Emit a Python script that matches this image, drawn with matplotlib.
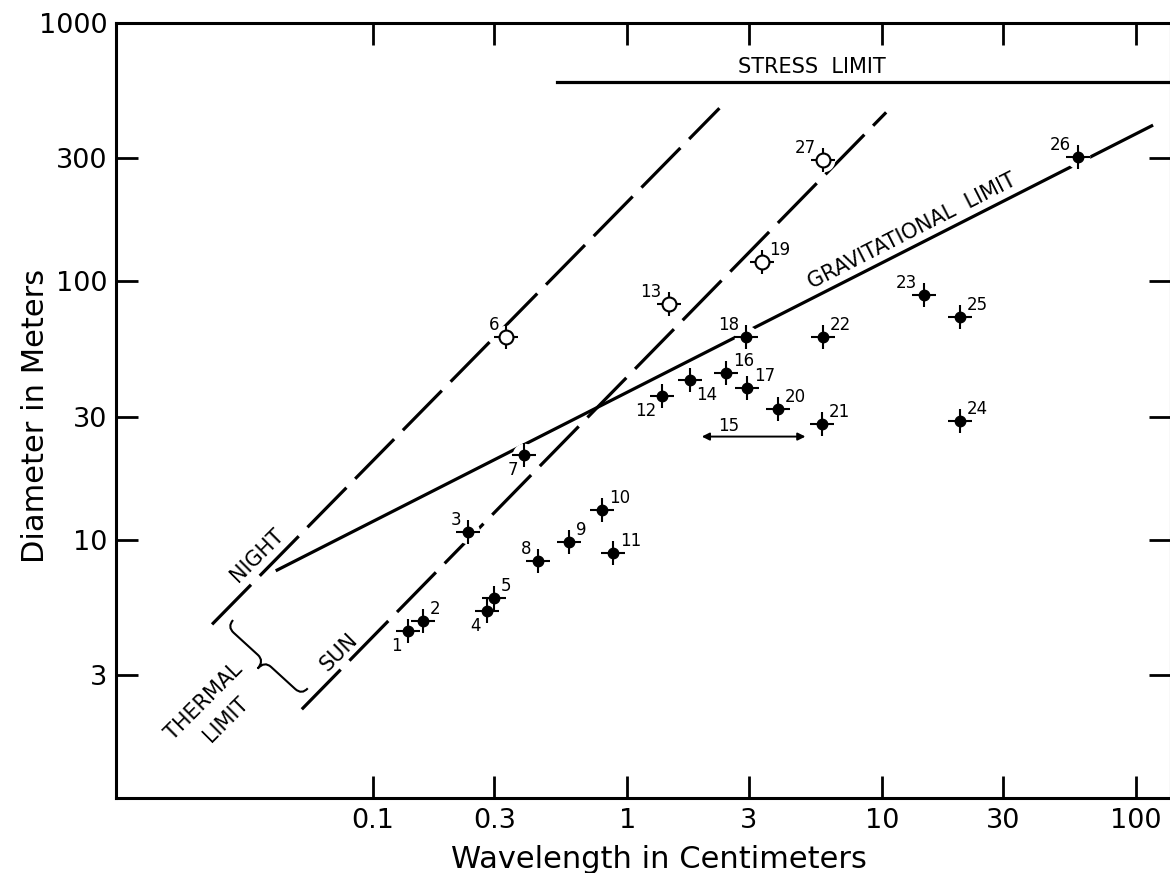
import matplotlib
matplotlib.use("Agg")
import matplotlib.pyplot as plt
import numpy as np
from matplotlib.path import Path
from matplotlib.patches import PathPatch
from matplotlib.ticker import NullLocator

plt.rcParams["font.family"] = ["DejaVu Sans"]
plt.rcParams["lines.scale_dashes"] = False

# numbered sources (15 only has a wavelength range, drawn as an arrow)
point_ids = [1, 2, 3, 4, 5, 6, 7, 8, 9, 10, 11, 12, 13, 14,
             16, 17, 18, 19, 20, 21, 22, 23, 24, 25, 26, 27]
wavelength_cm = [0.137, 0.157, 0.236, 0.281, 0.298, 0.334, 0.394, 0.445, 0.592, 0.798, 0.88, 1.37, 1.455, 1.76,
                 2.44, 2.95, 2.92, 3.38, 3.91, 5.83, 5.85, 14.6, 20.3, 20.3, 58.8, 5.85]
diameter_m = [4.45, 4.85, 10.7, 5.3, 5.97, 61.1, 21.3, 8.3, 9.77, 13.1, 8.87, 35.9, 81.5, 41.5,
              44.1, 38.8, 61.1, 119, 32.0, 28.2, 60.8, 88.6, 28.9, 72.6, 304, 295]
open_ids = [6, 13, 19, 27]

range15_cm = [1.96, 5.01]
range15_m = 25.1

# limit lines
night_cm, night_m = [0.0233, 2.30], [4.71, 468]
sun_cm, sun_m = [0.0525, 10.4], [2.21, 451]
grav_cm, grav_m = [0.042, 115], [7.64, 400]
stress_cm, stress_m = [0.53, 1000], [590, 590]

xticks = [0.1, 0.3, 1, 3, 10, 30, 100]
xtick_labels = ["0.1", "0.3", "1", "3", "10", "30", "100"]
yticks = [3, 10, 30, 100, 300, 1000]
ytick_labels = ["3", "10", "30", "100", "300", "1000"]

# where each number sits relative to its point
label_side = {1: "dl", 2: "ur", 3: "ul", 4: "dl", 5: "ur", 6: "ul", 7: "dl", 8: "ul", 9: "ur",
              10: "ur", 11: "ur", 12: "dl", 13: "ul", 14: "dr", 16: "ur", 17: "ur", 18: "ul",
              19: "ur", 20: "ur", 21: "ur", 22: "ur", 23: "ul", 24: "ur", 25: "ur", 26: "ul", 27: "ul"}
side_style = {"ur": ((7, 7), "left", "baseline"),
              "ul": ((-7, 7), "right", "baseline"),
              "dl": ((-6, -6), "right", "top"),
              "dr": ((6, -6), "left", "top")}

fig = plt.figure(figsize=(11.7, 8.73), dpi=100)
ax = fig.add_axes([115.8 / 1170, (873 - 798.3) / 873, (1171 - 115.8) / 1170, (798.3 - 23) / 873])
ax.set_xscale("log")
ax.set_yscale("log")
ax.set_xlim(0.00975, 137)
ax.set_ylim(1, 1000)

lw = 2.3
ax.plot(night_cm, night_m, color="black", lw=lw, dashes=(40, 9), solid_capstyle="butt")
ax.plot(sun_cm, sun_m, color="black", lw=lw, dashes=(40, 9), solid_capstyle="butt")
ax.plot(grav_cm, grav_m, color="black", lw=lw)
ax.plot(stress_cm, stress_m, color="black", lw=lw)

# white halo so lines break around the points
ax.plot(wavelength_cm, diameter_m, "o", ms=17, color="white", mec="none", zorder=3)
ax.plot(wavelength_cm, diameter_m, "+", ms=17, color="black", mew=1.5, zorder=4)
is_open = np.isin(point_ids, open_ids)
wl = np.array(wavelength_cm)
dm = np.array(diameter_m)
ax.plot(wl[~is_open], dm[~is_open], "o", ms=7.5, color="black", zorder=5)
ax.plot(wl[is_open], dm[is_open], "o", ms=10, mfc="white", mec="black", mew=1.5, zorder=5)

for pid, x, y in zip(point_ids, wavelength_cm, diameter_m):
    off, ha, va = side_style[label_side[pid]]
    ax.annotate(str(pid), (x, y), xytext=off, textcoords="offset pixels",
                ha=ha, va=va, fontsize=12, zorder=6)

ax.annotate("", xy=(range15_cm[1], range15_m), xytext=(range15_cm[0], range15_m),
            arrowprops=dict(arrowstyle="<|-|>", color="black", lw=1.4, mutation_scale=11,
                            shrinkA=0, shrinkB=0))
ax.text(2.49, 27.6, "15", fontsize=12, ha="center", va="center")

# curly brace joining the two thermal limits
brace_cm, brace_m = [0.0267, 0.0525], [4.61, 2.51]
a = np.log10([brace_cm[0], brace_m[0]])
b = np.log10([brace_cm[1], brace_m[1]])
L = np.hypot(*(b - a))
u = (b - a) / L
n = np.array([u[1], -u[0]])
r, depth, hook = 0.035, 0.04, 0.035
local = [(0, -hook), (0, 0), (r, 0), (L / 2 - r, 0), (L / 2, 0), (L / 2, depth),
         (L / 2, 0), (L / 2 + r, 0), (L - r, 0), (L, 0), (L, -hook)]
verts = [10 ** (a + s * u + t * n) for s, t in local]
codes = [Path.MOVETO, Path.CURVE3, Path.CURVE3, Path.LINETO, Path.CURVE3, Path.CURVE3,
         Path.CURVE3, Path.CURVE3, Path.LINETO, Path.CURVE3, Path.CURVE3]
ax.add_patch(PathPatch(Path(verts, codes), fill=False, lw=1.5, color="black"))

tkw = dict(fontsize=15, ha="center", va="center", rotation_mode="anchor")
ax.text(5.3, 678, "STRESS  LIMIT", **tkw)
ax.text(13.2, 156, "GRAVITATIONAL  LIMIT", rotation=27, **tkw)
ax.text(0.035, 8.73, "NIGHT", rotation=45, **tkw)
ax.text(0.0738, 3.69, "SUN", rotation=45, **tkw)
ax.text(0.0216, 2.36, "THERMAL", rotation=45, **tkw)
ax.text(0.0265, 2.01, "LIMIT", rotation=45, **tkw)

ax.xaxis.set_minor_locator(NullLocator())
ax.yaxis.set_minor_locator(NullLocator())
ax.set_xticks(xticks)
ax.set_xticklabels(xtick_labels)
ax.set_yticks(yticks)
ax.set_yticklabels(ytick_labels)
ax.tick_params(which="major", direction="in", length=16, width=2, top=True, right=True,
               labeltop=False, labelright=False, labelsize=19.5)
ax.tick_params(axis="x", pad=7)
ax.tick_params(axis="y", pad=6)
for sp in ax.spines.values():
    sp.set_linewidth(2.2)

ax.set_xlabel("Wavelength in Centimeters", fontsize=22)
ax.set_ylabel("Diameter in Meters", fontsize=22)
ax.xaxis.set_label_coords(0.5148, -0.060)
ax.yaxis.set_label_coords(-0.062, 0.493)

fig.savefig("out.png", dpi=100)
